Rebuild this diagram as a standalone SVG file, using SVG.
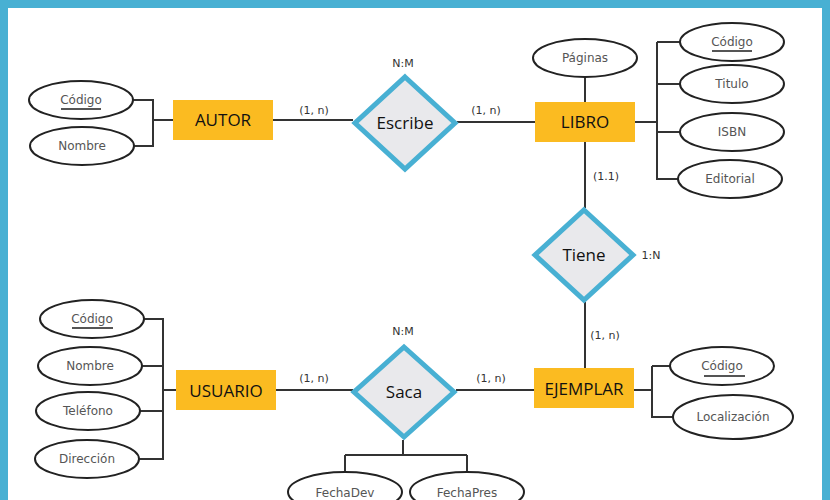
<svg xmlns="http://www.w3.org/2000/svg" width="830" height="500" viewBox="0 0 830 500">
<style>
.ent{fill:#fbbb21}
.et{font:17px "Open Sans",sans-serif;fill:#111;text-anchor:middle}
.rel{fill:#e9e9ec;stroke:#48b0d3;stroke-width:5}
.rt{font:17px "Open Sans",sans-serif;fill:#111;text-anchor:middle}
.att{fill:#fff;stroke:#222;stroke-width:2}
.at{font:12px "DejaVu Sans",sans-serif;fill:#555;text-anchor:middle}
.ln{fill:none;stroke:#333;stroke-width:2}
.lb{font:11px "DejaVu Sans",sans-serif;fill:#333;text-anchor:middle}
.u{stroke:#555;stroke-width:2}
</style>
<rect width="830" height="500" fill="#48b0d3"/>
<rect x="8" y="8" width="814" height="500" fill="#fff"/>
<g id="connectors" class="ln">
<path d="M133 100H153V146H134M153 120H173"/>
<path d="M273 120H353M457 122H535"/>
<path d="M585 78V102M635 122H657M657 42V180M657 42H680M657 84H680M657 132H680M657 179H678"/>
<path d="M585 142V208M585 302V368"/>
<path d="M144 319H163V459H139M142 366H163M140 411H163M163 390H176"/>
<path d="M276 390H353M456 390H534"/>
<path d="M634 390H652M652 366V417H673M652 366H670"/>
<path d="M403 440V455M345 455H467M345 455V472M467 455V472"/>
</g>
<g id="autor"><rect class="ent" x="173" y="100" width="100" height="40"/><text class="et" x="223" y="126">AUTOR</text></g>
<g id="autor-codigo"><ellipse class="att" cx="81" cy="100" rx="52" ry="19"/><text class="at" x="81" y="104">Código</text><line class="u" x1="61" y1="109" x2="101" y2="109"/></g>
<g id="autor-nombre"><ellipse class="att" cx="82" cy="146" rx="52" ry="19"/><text class="at" x="82" y="150">Nombre</text></g>
<g id="escribe"><polygon class="rel" points="405,77 455,123 405,169 355,123"/><text class="rt" x="405" y="129">Escribe</text></g>
<g id="libro"><rect class="ent" x="535" y="102" width="100" height="40"/><text class="et" x="585" y="128">LIBRO</text></g>
<g id="paginas"><ellipse class="att" cx="585" cy="58" rx="52" ry="19"/><text class="at" x="585" y="62">Páginas</text></g>
<g id="libro-codigo"><ellipse class="att" cx="732" cy="42" rx="52" ry="19"/><text class="at" x="732" y="46">Código</text><line class="u" x1="712" y1="51" x2="752" y2="51"/></g>
<g id="titulo"><ellipse class="att" cx="732" cy="84" rx="52" ry="19"/><text class="at" x="732" y="88">Titulo</text></g>
<g id="isbn"><ellipse class="att" cx="732" cy="132" rx="52" ry="19"/><text class="at" x="732" y="136">ISBN</text></g>
<g id="editorial"><ellipse class="att" cx="730" cy="179" rx="52" ry="19"/><text class="at" x="730" y="183">Editorial</text></g>
<g id="tiene"><polygon class="rel" points="584,210 633,255 584,300 535,255"/><text class="rt" x="584" y="261">Tiene</text></g>
<g id="ejemplar"><rect class="ent" x="534" y="368" width="100" height="40"/><text class="et" x="584" y="395">EJEMPLAR</text></g>
<g id="ej-codigo"><ellipse class="att" cx="722" cy="366" rx="52" ry="19"/><text class="at" x="722" y="370">Código</text><line class="u" x1="704" y1="376" x2="745" y2="376"/></g>
<g id="localizacion"><ellipse class="att" cx="733" cy="417" rx="60" ry="22"/><text class="at" x="733" y="421">Localización</text></g>
<g id="saca"><polygon class="rel" points="404,347 454,392 404,437 354,392"/><text class="rt" x="404" y="398">Saca</text></g>
<g id="usuario"><rect class="ent" x="176" y="370" width="100" height="40"/><text class="et" x="226" y="397">USUARIO</text></g>
<g id="us-codigo"><ellipse class="att" cx="92" cy="319" rx="52" ry="19"/><text class="at" x="92" y="323">Código</text><line class="u" x1="72" y1="328" x2="113" y2="328"/></g>
<g id="us-nombre"><ellipse class="att" cx="90" cy="366" rx="52" ry="19"/><text class="at" x="90" y="370">Nombre</text></g>
<g id="telefono"><ellipse class="att" cx="88" cy="411" rx="52" ry="19"/><text class="at" x="88" y="415">Teléfono</text></g>
<g id="direccion"><ellipse class="att" cx="87" cy="459" rx="52" ry="19"/><text class="at" x="87" y="463">Dirección</text></g>
<g id="fechadev"><ellipse class="att" cx="345" cy="492" rx="57" ry="20"/><text class="at" x="345" y="497">FechaDev</text></g>
<g id="fechapres"><ellipse class="att" cx="467" cy="492" rx="57" ry="20"/><text class="at" x="467" y="497">FechaPres</text></g>
<g id="labels">
<text class="lb" x="314" y="114">(1, n)</text>
<text class="lb" x="486" y="114">(1, n)</text>
<text class="lb" x="403" y="67">N:M</text>
<text class="lb" x="606" y="180">(1.1)</text>
<text class="lb" x="651" y="259">1:N</text>
<text class="lb" x="605" y="339">(1, n)</text>
<text class="lb" x="403" y="335">N:M</text>
<text class="lb" x="314" y="382">(1, n)</text>
<text class="lb" x="491" y="382">(1, n)</text>
</g>
</svg>
